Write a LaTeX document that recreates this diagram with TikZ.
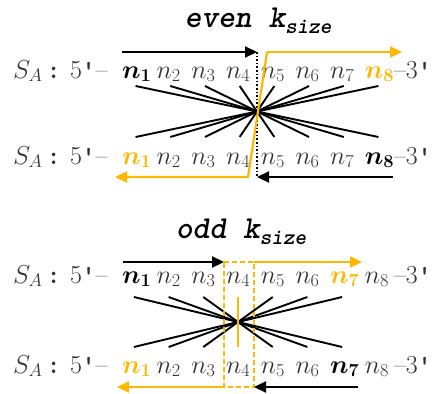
\RequirePackage{fix-cm}
\documentclass[tikz,border=0pt]{standalone}
\usepackage{amsmath,bm}
\usepackage{fontspec}
\usetikzlibrary{arrows.meta}
\definecolor{orng}{RGB}{255,184,0}
\definecolor{txt}{RGB}{50,50,50}
\begin{document}
\begin{tikzpicture}[x=1pt,y=-1pt,
  tok/.style={anchor=base west, inner sep=0pt, outer sep=0pt, text=txt, font=\fontsize{26}{28}\selectfont},
  ttl/.style={anchor=base, inner sep=0pt, font=\fontsize{32}{34}\selectfont\ttfamily\bfseries\itshape, text=black},
  crossln/.style={line width=1.9pt, black},
  arr/.style={line width=2.2pt, -{Triangle[length=12pt,width=11pt]}},
  dotln/.style={line width=1.6pt, dotted, black},
  dashln/.style={line width=1.6pt, orng, dash pattern=on 5pt off 3pt},
]
\useasboundingbox (0,0) rectangle (438,393);
\newcommand{\sub}[1]{\raisebox{-6pt}{\fontsize{22}{22}\selectfont #1}}
% titles
\node[ttl] (t1) at (258,28) {even k\sub{size}};
\node[ttl] (t2) at (241,238) {odd k\sub{size}};
% rows
\foreach \r/\y in {1/78,2/164,3/283,4/373}{
  \node[tok] (s\r) at (13,\y) {$S_{A}$\,{\ttfamily\bfseries :}};
  \node[tok] (p\r) at (70,\y) {5{\ttfamily\bfseries '}--};
  \node[tok] (e\r) at (394,\y) {--3{\ttfamily\bfseries '}};
}
% row 1
\node[tok,text=black] (r1n1) at (122,78) {$\bm{n_1}$};
\foreach \i in {2,...,7}{\node[tok] (r1n\i) at ({122+34.7*(\i-1)},78) {$n_{\i}$};}
\node[tok,text=orng] (r1n8) at ({122+34.7*7},78) {$\bm{n_8}$};
% row 2
\node[tok,text=orng] (r2n1) at (122,164) {$\bm{n_1}$};
\foreach \i in {2,...,7}{\node[tok] (r2n\i) at ({122+34.7*(\i-1)},164) {$n_{\i}$};}
\node[tok,text=black] (r2n8) at ({122+34.7*7},164) {$\bm{n_8}$};
% row 3
\node[tok,text=black] (r3n1) at (122,283) {$\bm{n_1}$};
\foreach \i in {2,...,6,8}{\node[tok] (r3n\i) at ({122+34.7*(\i-1)},283) {$n_{\i}$};}
\node[tok,text=orng] (r3n7) at ({122+34.7*6},283) {$\bm{n_7}$};
% row 4
\node[tok,text=orng] (r4n1) at (122,373) {$\bm{n_1}$};
\foreach \i in {2,...,6,8}{\node[tok] (r4n\i) at ({122+34.7*(\i-1)},373) {$n_{\i}$};}
\node[tok,text=black] (r4n7) at ({122+34.7*6},373) {$\bm{n_7}$};
% even crossing lines
\foreach \i in {1,...,8}{
  \coordinate (et\i) at ({257+(\i-4.5)*34.7},86);
  \coordinate (eb\i) at ({257+(\i-4.5)*34.7},137);
}
\foreach \i in {1,...,8}{
  \pgfmathtruncatemacro{\j}{9-\i}
  \draw[crossln] (et\i) -- (eb\j);
}
% odd crossing lines
\foreach \i in {1,...,7}{
  \coordinate (ot\i) at ({238+(\i-4)*34.7},297);
  \coordinate (ob\i) at ({238+(\i-4)*34.7},347);
}
\foreach \i in {1,2,3,5,6,7}{
  \pgfmathtruncatemacro{\j}{8-\i}
  \draw[crossln] (ot\i) -- (ob\j);
}
\draw[line width=1.8pt, orng] (ot4) -- (ob4);
% even arrows
\coordinate (ea0) at (122,52);
\coordinate (ea1) at (257,52);
\coordinate (ea2) at (257,177);
\coordinate (ea3) at (393,177);
\draw[dotln] (ea1) -- (ea2);
\draw[arr,black] (ea0) -- (ea1);
\draw[arr,black] (ea3) -- (ea2);
\coordinate (eo0) at (402,52);
\coordinate (eo1) at (267,52);
\coordinate (eo2) at (248,177);
\coordinate (eo3) at (115,177);
\draw[line width=2.2pt, orng, -{Triangle[length=12pt,width=11pt]}] (eo1) -- (eo2) -- (eo3);
\draw[line width=2.2pt, orng, -{Triangle[length=12pt,width=11pt]}] (eo1) -- (eo0);
% odd arrows and dashed box
\coordinate (bx1) at (224,262);
\coordinate (bx2) at (254,262);
\coordinate (bx3) at (254,387);
\coordinate (bx4) at (224,387);
\draw[dashln] (bx1) -- (bx2) -- (bx3) -- (bx4) -- cycle;
\coordinate (oa0) at (123,262);
\coordinate (oa1) at (358,387);
\coordinate (oo0) at (362,262);
\coordinate (oo1) at (117,387);
\draw[arr,black] (oa0) -- (bx1);
\draw[arr,black] (oa1) -- (bx3);
\draw[arr,orng] (bx2) -- (oo0);
\draw[arr,orng] (bx4) -- (oo1);
\end{tikzpicture}
\end{document}
